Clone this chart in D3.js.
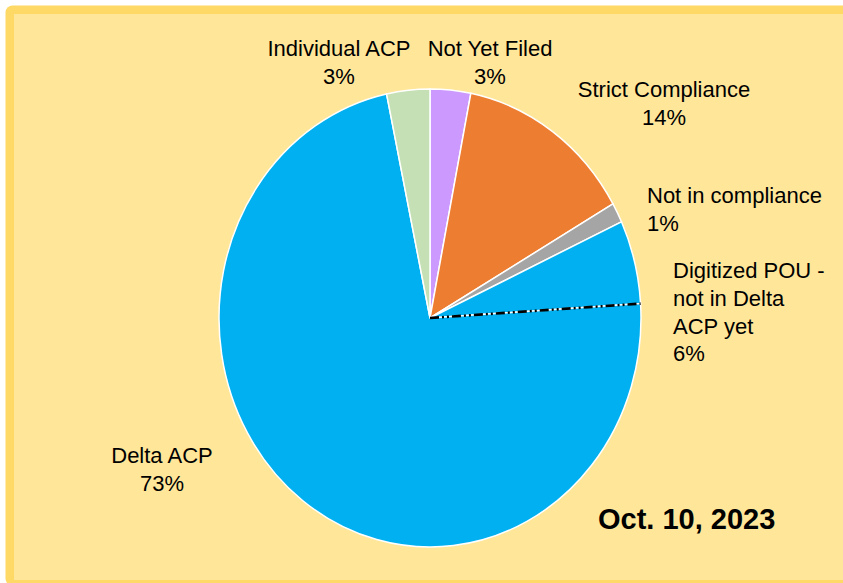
<!DOCTYPE html>
<html>
<head>
<meta charset="utf-8">
<script src="https://cdn.jsdelivr.net/npm/d3@7"></script>
<style>
  html, body { margin: 0; padding: 0; background: #fff; }
  svg { display: block; }
</style>
</head>
<body>
<script>
// slices, clockwise from 12 o'clock
const categories = [
  "Not Yet Filed",
  "Strict Compliance",
  "Not in compliance",
  "Digitized POU - not in Delta ACP yet",
  "Delta ACP",
  "Individual ACP"
]
const values = [3.1, 13.6, 1.4, 5.9, 72.7, 3.3]
const colors = ["#CC99FF", "#ED7D31", "#A5A5A5", "#00B0F0", "#00B0F0", "#C5E0B4"]
const labelLines = [
  ["Not Yet Filed"],
  ["Strict Compliance"],
  ["Not in compliance"],
  ["Digitized POU -", "not in Delta", "ACP yet"],
  ["Delta ACP"],
  ["Individual ACP"]
]
const dateLabel = "Oct. 10, 2023"

// label layout (x, first baseline, anchor)
const labelLayout = [
  {x: 490, y: 56, anchor: "middle"},
  {x: 664, y: 97, anchor: "middle"},
  {x: 647, y: 203, anchor: "start"},
  {x: 673, y: 278, anchor: "start"},
  {x: 162, y: 463, anchor: "middle"},
  {x: 339, y: 56, anchor: "middle"}
]

const W = 843, H = 583
const cx = 430, cy = 318, rx = 211, ry = 229
const lineH = 27.8

const svg = d3.select("body").append("svg")
  .attr("width", W)
  .attr("height", H)

// frame
svg.append("rect")
  .attr("x", 5.5).attr("y", 5.5)
  .attr("width", 900).attr("height", 580)
  .attr("rx", 7)
  .attr("fill", "#FFD966")
svg.append("rect")
  .attr("x", 14).attr("y", 14)
  .attr("width", 900).attr("height", 566)
  .attr("fill", "#FFE699")

const pie = d3.pie().sort(null).value(d => d)
const arcs = pie(values)
const arc = d3.arc().innerRadius(0).outerRadius(rx)

const g = svg.append("g")
  .attr("transform", `translate(${cx},${cy}) scale(1,${ry / rx})`)

g.selectAll("path.slice")
  .data(arcs)
  .enter()
  .append("path")
  .attr("class", "slice")
  .attr("d", arc)
  .attr("fill", (d, i) => colors[i])
  .attr("stroke", "#fff")
  .attr("stroke-width", 1.5)
  .attr("vector-effect", "non-scaling-stroke")

// dash-dot line on the Digitized / Delta ACP boundary
const a = arcs[3].endAngle
g.append("line")
  .attr("x1", 0).attr("y1", 0)
  .attr("x2", rx * Math.sin(a))
  .attr("y2", -rx * Math.cos(a))
  .attr("stroke", "#000")
  .attr("stroke-width", 2.6)
  .attr("stroke-dasharray", "9,3,2,3,2,3")
  .attr("vector-effect", "non-scaling-stroke")

// labels
const labels = svg.selectAll("text.lbl")
  .data(arcs)
  .enter()
  .append("text")
  .attr("class", "lbl")
  .attr("font-family", "Liberation Sans, Arial, sans-serif")
  .attr("font-size", 22)
  .attr("fill", "#000")
  .attr("text-anchor", (d, i) => labelLayout[i].anchor)

labels.each(function(d, i) {
  const lines = labelLines[i].concat([Math.round(d.data) + "%"])
  d3.select(this).selectAll("tspan")
    .data(lines)
    .enter()
    .append("tspan")
    .attr("x", labelLayout[i].x)
    .attr("y", (t, k) => labelLayout[i].y + k * lineH)
    .text(t => t)
})

svg.append("text")
  .attr("x", 598)
  .attr("y", 529)
  .attr("font-family", "Liberation Sans, Arial, sans-serif")
  .attr("font-size", 29)
  .attr("font-weight", "bold")
  .attr("fill", "#000")
  .text(dateLabel)
</script>
</body>
</html>
